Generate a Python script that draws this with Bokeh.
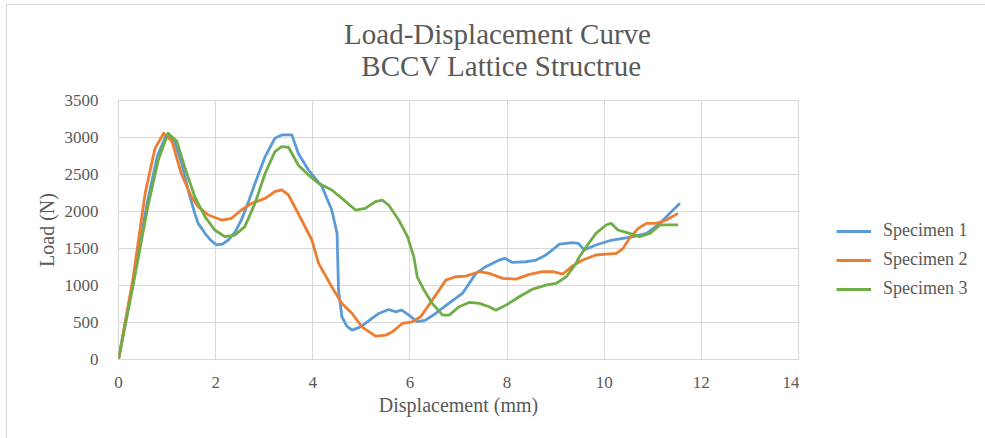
from bokeh.plotting import figure
from bokeh.layouts import row, column
from bokeh.models import Legend, LegendItem, Label, FixedTicker, Range1d
from bokeh.embed import file_html
from bokeh.resources import INLINE

# Load-displacement readings for the three BCCV lattice specimens
disp_1 = [0, 0.3, 0.6, 0.8, 0.98, 1.15, 1.3, 1.45, 1.57, 1.64, 1.78, 1.9, 2.02, 2.14, 2.26,
          2.4, 2.53, 2.67, 2.81, 3.02, 3.22, 3.36, 3.57, 3.7, 3.91, 4.19, 4.39, 4.5, 4.53,
          4.6, 4.7, 4.81, 4.95, 5.08, 5.36, 5.56, 5.7, 5.83, 5.98, 6.15, 6.32, 6.53, 6.8,
          7.08, 7.36, 7.56, 7.84, 7.95, 8.11, 8.39, 8.6, 8.8, 9.08, 9.35, 9.47, 9.59, 9.83,
          10.11, 10.39, 10.6, 10.87, 11.15, 11.35, 11.56]
load_1 = [0, 1050, 2150, 2750, 3030, 2950, 2650, 2250, 1975, 1840, 1705, 1610, 1550, 1560, 1615,
          1720, 1885, 2120, 2380, 2742, 2990, 3035, 3035, 2787, 2562, 2336, 2020, 1705, 938,
          577, 450, 397, 430, 487, 622, 676, 645, 667, 600, 510, 532, 622, 758,
          893, 1164, 1254, 1344, 1367, 1312, 1321, 1344, 1412, 1560, 1578, 1569, 1479, 1547,
          1605, 1637, 1660, 1705, 1840, 1975, 2110]

disp_2 = [0, 0.3, 0.55, 0.75, 0.93, 1.1, 1.29, 1.5, 1.64, 1.85, 2.12, 2.33, 2.53, 2.74,
          3.02, 3.22, 3.36, 3.5, 3.77, 3.98, 4.12, 4.39, 4.6, 4.81, 5.01, 5.29, 5.5, 5.64,
          5.84, 6.05, 6.22, 6.46, 6.74, 6.94, 7.15, 7.43, 7.63, 7.91, 8.18, 8.46, 8.73,
          8.94, 9.15, 9.35, 9.56, 9.83, 10.04, 10.25, 10.39, 10.52, 10.7, 10.87, 11.07,
          11.28, 11.52]
load_2 = [0, 1100, 2250, 2850, 3058, 2950, 2517, 2200, 2065, 1953, 1885, 1908, 2020, 2110,
          2178, 2268, 2291, 2223, 1885, 1615, 1299, 983, 758, 622, 442, 316, 329, 374,
          487, 510, 577, 803, 1073, 1118, 1127, 1186, 1164, 1096, 1087, 1150, 1186,
          1186, 1155, 1265, 1344, 1412, 1425, 1434, 1502, 1637, 1772, 1840, 1840,
          1885, 1975]

disp_3 = [0, 0.3, 0.6, 0.82, 1.02, 1.2, 1.36, 1.57, 1.78, 1.98, 2.19, 2.4, 2.6, 2.81,
          3.02, 3.22, 3.36, 3.5, 3.7, 3.91, 4.12, 4.39, 4.6, 4.88, 5.08, 5.29, 5.43, 5.56,
          5.77, 5.95, 6.08, 6.15, 6.29, 6.46, 6.67, 6.81, 7.01, 7.22, 7.43, 7.63, 7.77,
          7.98, 8.25, 8.53, 8.8, 9.01, 9.22, 9.42, 9.49, 9.63, 9.83, 10.04, 10.14, 10.28,
          10.52, 10.73, 10.94, 11.15, 11.35, 11.52]
load_3 = [0, 1000, 2050, 2700, 3058, 2950, 2607, 2200, 1930, 1750, 1660, 1682, 1795, 2110,
          2517, 2810, 2877, 2868, 2629, 2494, 2381, 2291, 2178, 2020, 2043, 2133, 2155, 2088,
          1885, 1660, 1389, 1118, 938, 758, 600, 600, 713, 771, 758, 713, 667,
          735, 848, 952, 1006, 1028, 1118, 1299, 1389, 1524, 1705, 1818, 1840, 1750,
          1705, 1660, 1705, 1818, 1818, 1818]

series_names = ["Specimen 1", "Specimen 2", "Specimen 3"]
series_colors = ["#5B9BD5", "#ED7D31", "#70AD47"]
x_ticks = [0, 2, 4, 6, 8, 10, 12, 14]
y_ticks = [0, 500, 1000, 1500, 2000, 2500, 3000, 3500]
title_lines = ["Load-Displacement Curve", "BCCV Lattice Structrue"]

SERIF = "Liberation Serif"
TEXT = "#595959"
GRID = "#D9D9D9"
LINE_W = 2.8
series = list(zip([disp_1, disp_2, disp_3], [load_1, load_2, load_3], series_colors))

# ---- title strip (a pixel-scaled canvas holding the two title lines) -------
t = figure(width=979, height=80, output_backend="svg", toolbar_location=None,
           x_range=Range1d(0, 979), y_range=Range1d(0, 80),
           x_axis_type=None, y_axis_type=None, min_border=0)
t.outline_line_color = None
t.grid.visible = False
t.border_fill_color = "white"
for text, tx, ty in zip(title_lines, [490, 494], [52, 20]):
    t.add_layout(Label(x=tx, y=ty, text=text, text_font=SERIF, text_font_size="29px",
                       text_color=TEXT, text_align="center", text_baseline="middle"))

# ---- main chart -------------------------------------------------------------
p = figure(width=792, height=353, output_backend="svg", toolbar_location=None,
           x_range=Range1d(0, 14), y_range=Range1d(0, 3500),
           min_border_left=111, min_border_right=1, min_border_top=15,
           min_border_bottom=79)
p.outline_line_color = GRID
p.background_fill_color = "white"
p.border_fill_color = "white"

for ax in [p.xaxis[0], p.yaxis[0]]:
    ax.major_tick_line_color = None
    ax.minor_tick_line_color = None
    ax.major_label_text_font = SERIF
    ax.major_label_text_color = TEXT
    ax.major_label_text_font_size = "17px"
    ax.axis_label_text_font = SERIF
    ax.axis_label_text_color = TEXT
    ax.axis_label_text_font_size = "20px"
    ax.axis_label_text_font_style = "normal"

p.xaxis.ticker = FixedTicker(ticks=x_ticks)
p.yaxis.ticker = FixedTicker(ticks=y_ticks)
p.xaxis.axis_label = "Displacement (mm)"
p.yaxis.axis_label = "Load (N)"
p.xaxis.axis_line_color = GRID
p.yaxis.axis_line_color = None
p.xaxis.major_label_standoff = 11
p.yaxis.major_label_standoff = 14
p.xaxis.axis_label_standoff = 3
p.yaxis.axis_label_standoff = 4

p.xgrid.ticker = FixedTicker(ticks=x_ticks)
p.ygrid.ticker = FixedTicker(ticks=y_ticks)
p.grid.grid_line_color = GRID
p.grid.grid_line_width = 1

for xs, ys, color in series:
    p.line(xs, ys, line_color=color, line_width=LINE_W, line_join="round")

# ---- legend strip to the right of the chart ---------------------------------
# The key lines reuse the series data, but the strip's ranges keep them out of view
q = figure(width=187, height=353, output_backend="svg", toolbar_location=None,
           x_range=Range1d(-2, -1), y_range=Range1d(0, 1),
           x_axis_type=None, y_axis_type=None, min_border=0)
q.outline_line_color = None
q.grid.visible = False
q.border_fill_color = "white"

keys = [q.line(xs, ys, line_color=c, line_width=LINE_W) for xs, ys, c in series]
legend = Legend(items=[LegendItem(label=n, renderers=[k]) for n, k in zip(series_names, keys)],
                location=(37, 60), padding=0, margin=0, spacing=8,
                glyph_width=35, glyph_height=20, label_height=20, label_standoff=12,
                label_text_font=SERIF, label_text_font_size="18px", label_text_color=TEXT,
                border_line_color=None, background_fill_alpha=0)
q.add_layout(legend, "center")

layout = column(t, row(p, q, spacing=0), spacing=0, margin=(4, 0, 0, 6),
                styles={"border": "1px solid #D9D9D9"})

open("out.html", "w").write(file_html(layout, INLINE))
